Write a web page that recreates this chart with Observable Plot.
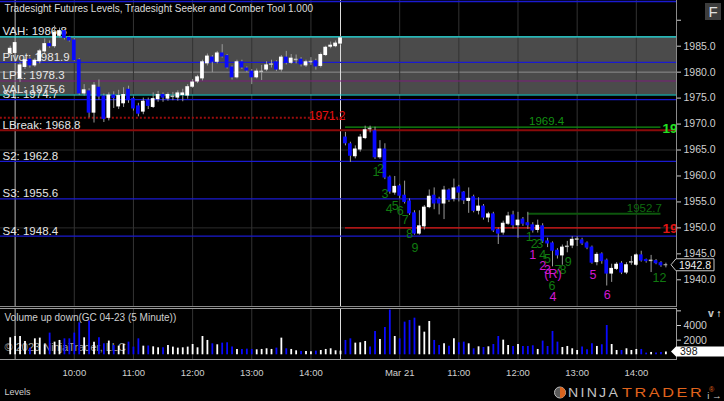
<!DOCTYPE html>
<html><head><meta charset="utf-8">
<script src="https://cdn.jsdelivr.net/npm/d3@7"></script>
<script src="https://cdn.jsdelivr.net/npm/@observablehq/plot@0.6"></script>
<style>
html,body{margin:0;padding:0;background:#000;}
#chart{width:724px;height:401px;overflow:hidden;background:#000;}
#chart svg{display:block;}
</style></head><body><div id="chart"></div>
<script>
// ---- OHLC (5 minute bars, two sessions) ----
const openP = [1983.6,1983.7,1978.8,1981.0,1982.4,1981.3,1982.1,1984.0,1985.4,1985.0,1987.0,1987.9,1986.6,1986.1,1982.3,1975.9,1976.3,1972.2,1977.0,1975.3,1971.2,1975.5,1973.4,1974.0,1976.6,1974.8,1973.4,1972.4,1974.5,1973.3,1974.8,1975.6,1974.9,1975.2,1975.1,1975.6,1975.5,1977.2,1978.2,1978.8,1981.7,1982.8,1982.0,1983.6,1983.1,1980.9,1979.0,1981.9,1980.7,1980.1,1979.0,1980.0,1980.5,1981.4,1981.9,1980.5,1982.8,1981.8,1982.3,1982.4,1981.3,1981.9,1982.1,1981.2,1983.3,1984.9,1985.0,1985.5,
1967.4,1966.1,1963.8,1965.1,1967.3,1969.1,1968.6,1963.6,1965.1,1959.7,1956.8,1958.0,1956.2,1955.1,1952.8,1948.9,1950.3,1954.0,1956.2,1955.4,1954.7,1957.2,1955.6,1957.8,1956.8,1955.2,1955.9,1953.3,1954.1,1952.0,1952.6,1949.6,1949.1,1950.8,1952.4,1950.5,1951.6,1950.9,1950.5,1949.6,1950.3,1947.4,1947.0,1945.6,1944.7,1946.3,1946.6,1947.7,1947.6,1947.0,1946.2,1943.4,1944.9,1943.7,1941.2,1942.1,1943.1,1941.4,1943.3,1942.9,1944.7,1943.8,1943.6,1943.6,1943.2,1942.8];
const highP = [1985.0,1986.0,1981.8,1982.8,1982.8,1982.6,1984.4,1986.4,1986.0,1988.9,1988.5,1988.2,1986.9,1986.5,1982.6,1977.6,1976.8,1978.0,1978.5,1975.8,1976.0,1976.2,1976.5,1977.0,1977.3,1975.2,1974.0,1975.0,1975.0,1976.0,1976.3,1976.0,1976.0,1976.1,1976.4,1976.7,1977.6,1978.6,1979.4,1982.3,1983.5,1983.2,1984.0,1985.3,1983.4,1981.2,1982.3,1982.3,1981.0,1980.5,1980.6,1981.3,1982.0,1982.3,1982.2,1983.2,1984.0,1983.4,1983.3,1982.8,1982.3,1982.8,1982.5,1983.7,1985.0,1985.8,1986.0,1986.9,
1968.4,1966.5,1965.8,1968.0,1969.6,1969.6,1969.4,1966.8,1966.2,1960.0,1959.9,1958.4,1959.0,1955.6,1953.3,1953.3,1954.3,1957.3,1957.7,1955.9,1958.0,1957.5,1959.4,1958.2,1957.0,1957.7,1956.3,1955.8,1954.5,1953.0,1953.0,1950.0,1951.3,1953.0,1953.2,1953.0,1952.0,1953.0,1951.0,1951.5,1950.8,1948.0,1947.3,1946.0,1946.7,1947.4,1948.3,1948.3,1948.0,1947.3,1946.5,1945.2,1945.2,1944.0,1943.0,1943.3,1943.5,1943.3,1944.5,1945.0,1945.5,1944.0,1944.7,1943.9,1943.5,1943.2];
const lowP = [1983.2,1982.5,1978.0,1980.5,1980.8,1980.9,1981.6,1983.6,1984.6,1984.6,1986.6,1986.2,1985.8,1982.0,1975.5,1975.4,1971.2,1970.2,1974.6,1970.3,1970.6,1973.0,1972.8,1973.2,1974.0,1972.5,1971.4,1971.8,1972.8,1973.0,1974.2,1974.2,1974.4,1974.5,1974.4,1974.3,1974.8,1976.9,1977.8,1978.3,1981.2,1979.9,1981.6,1982.7,1980.6,1978.5,1978.7,1980.5,1979.9,1977.6,1978.7,1978.4,1980.1,1980.8,1980.1,1980.0,1981.4,1981.5,1981.6,1981.0,1980.9,1981.3,1980.4,1980.8,1983.0,1984.5,1984.7,1985.2,
1965.8,1962.6,1963.3,1964.6,1967.0,1968.3,1963.2,1963.2,1959.3,1956.5,1956.3,1955.6,1954.6,1952.4,1948.6,1948.6,1949.6,1953.7,1953.5,1952.5,1951.6,1954.9,1955.0,1955.0,1954.5,1952.8,1952.9,1952.5,1951.5,1951.0,1949.1,1946.8,1948.6,1950.5,1949.8,1948.0,1950.3,1949.7,1949.0,1949.0,1947.0,1946.2,1942.5,1944.0,1942.8,1945.2,1946.0,1946.4,1946.6,1945.8,1943.0,1942.7,1943.0,1938.8,1939.5,1941.8,1941.0,1941.0,1942.8,1942.6,1943.4,1943.2,1941.4,1942.9,1942.4,1942.3];
const closeP = [1984.5,1985.6,1981.3,1982.3,1981.3,1982.2,1984.0,1985.4,1985.0,1987.6,1987.9,1986.6,1986.1,1982.3,1975.9,1976.5,1972.2,1977.4,1975.3,1971.0,1975.5,1975.0,1975.4,1975.6,1974.6,1973.0,1972.0,1974.3,1973.5,1974.8,1975.6,1975.1,1975.6,1975.3,1975.9,1975.9,1977.1,1978.0,1979.0,1981.9,1983.0,1982.0,1983.6,1983.0,1980.9,1979.0,1981.9,1980.9,1980.3,1979.0,1980.1,1980.1,1981.3,1981.5,1980.5,1982.8,1981.8,1982.6,1982.4,1981.5,1981.9,1982.0,1981.1,1983.3,1984.7,1985.1,1985.5,1986.5,
1966.3,1963.9,1965.1,1967.4,1968.8,1969.0,1963.6,1965.1,1959.7,1957.0,1957.9,1956.2,1955.0,1952.8,1948.9,1950.3,1953.9,1956.0,1954.7,1954.7,1957.2,1955.4,1957.6,1956.8,1955.3,1955.6,1953.3,1954.1,1952.0,1952.6,1949.5,1948.9,1950.8,1952.2,1950.5,1951.4,1950.8,1950.5,1949.5,1950.4,1947.4,1947.0,1945.6,1944.7,1946.2,1946.4,1947.7,1947.8,1947.0,1946.2,1943.3,1944.8,1943.6,1941.2,1942.1,1942.9,1941.4,1942.8,1943.4,1944.7,1943.7,1943.6,1943.7,1943.2,1942.8,1942.8];
const volume = [2320,2500,2500,1820,910,2180,2275,1365,2960,1730,1960,2180,2180,2960,4370,2320,4600,1730,2320,1500,1870,1270,1180,1410,1730,1050,2180,1180,1200,1090,955,955,1270,1050,910,955,1050,1410,955,2500,1960,1500,1365,1590,1640,1050,730,730,770,730,680,730,820,730,910,2275,820,730,545,455,455,410,500,590,730,820,545,500,
1960,2180,1590,1640,1820,1050,3190,2090,3730,6100,2500,2180,4460,4690,5000,3910,3090,4550,1960,1270,1500,1180,2180,1640,1730,1500,820,1090,1000,1090,1410,2500,2000,1270,1140,1410,1140,1140,1230,730,1870,1140,3190,1730,1000,1140,820,590,1050,680,1500,1140,1370,4000,1410,590,590,820,590,730,730,230,320,230,320,398];

// ---- time axis ----
const tickIndex = [13,25,37,49,61,79,91,103,115,127];
const tickLabels = ["10:00","11:00","12:00","13:00","14:00","Mar 21","11:00","12:00","13:00","14:00"];
const sessionIndex = [1,67];
const sessionColors = ["#b4b4b4","#dcdcdc"];

// ---- Tradesight levels ----
const levelNames  = ["VAH","Pivot","LP1","VAL","S1","LBreak","S2","S3","S4"];
const levelValues = [1986.8,1981.9,1978.3,1975.6,1974.7,1968.8,1962.8,1955.6,1948.4];
const levelColors = ["#22e3e3","#1a1ad0","#7a1f7a","#22e3e3","#1a1ad0","#8a0a0a","#1a1ad0","#1a1ad0","#1a1ad0"];
const levelWidths = [1.2,1.2,1,1.2,1.2,2,1.2,1.2,1.2];
const upperLevel = [1993.6];            // next level above, label off screen
const valueAreaHigh = 1986.8, valueAreaLow = 1975.6;
const gridPrices = [1950,1965];
const gridPricesInBox = [1980];
const priceTicks = [1940,1945,1950,1955,1960,1965,1970,1975,1980,1985];
const priceTickMarksOnly = [1990];
const volumeTicks = [2000,4000];
const volumeTickMarksOnly = [6000];

// previous session break line
const prevBreak = [{value:1971.2, from:-2, to:68}];
// Seeker target lines
const targetValues = [1969.4, 1950.0, 1952.7];
const targetFrom   = [68, 68, 105];
const targetTo     = [132, 132, 132];
const targetColors = ["#129012","#e01414","#0d560d"];
const targetLabelIdx = [108.8, null, 132.2];
const targetLabelColors = ["#129012", null, "#0f6a0f"];
const targetEdgeColors = ["#22e022","#e01414",null];

// Seeker / Comber counts
const seekText  = ["1","2","3","4","5","6","7","8","9","1","2","3","4","5","6","7","8","9","12","1","2","3","(R)","4","5","6"];
const seekIdx   = [74.2,75.1,76.0,76.9,78.1,79.1,80.1,81.0,82.1,105.3,106.3,107.4,108.0,109.0,109.9,111.1,112.1,113.2,131.7,106.0,108.0,109.0,110.1,110.1,118.2,121.1];
const seekPrice = [1960.7,1961.3,1956.5,1953.6,1954.3,1953.2,1951.6,1948.9,1946.1,1948.2,1946.9,1946.9,1944.8,1944.0,1938.9,1941.8,1941.8,1943.4,1940.4,1944.7,1942.6,1941.9,1941.2,1936.6,1941.0,1937.1];
const seekKind  = ["s","s","s","s","s","s","s","s","s","s","s","s","s","s","s","s","s","s","s","c","c","c","c","c","c","c"];

// ---- build tables ----
const bars = openP.map((o,i) => ({i, o, h: highP[i], l: lowP[i], c: closeP[i], v: volume[i], up: closeP[i] >= o, doji: Math.abs(closeP[i]-o) < 0.15}));
const levels = levelNames.map((n,k) => ({name:n, value:levelValues[k], color:levelColors[k], w:levelWidths[k]}));
const targets = targetValues.map((v,k) => ({value:v, from:targetFrom[k], to:targetTo[k], color:targetColors[k], li:targetLabelIdx[k], lc:targetLabelColors[k], ec:targetEdgeColors[k]}));
const seeks = seekText.map((t,k) => ({t, i:seekIdx[k], p:seekPrice[k], color: seekKind[k]==="s" ? "#107a10" : "#d218d2"}));
const last = bars[bars.length-1];

const FONT = "'Liberation Sans', Arial, sans-serif";
const X = {domain:[0,133], range:[9.7,665.4], axis:null};

const pricePlot = Plot.plot({
  width:724, height:306, marginLeft:-1, marginRight:48, marginTop:-1, marginBottom:0,
  x: X,
  y: {domain:[1940,1985], range:[279.3,45.7], axis:null},
  style: {background:"#000", color:"#cfcfcf", fontFamily:FONT, overflow:"visible"},
  marks: [
    Plot.rect([0], {y1: () => valueAreaLow, y2: () => valueAreaHigh, fill:"#4b4b4b"}),
    Plot.ruleY(gridPrices, {stroke:"#2c2c2c"}),
    Plot.ruleY(gridPricesInBox, {stroke:"#8e8e8e"}),
    Plot.ruleX(tickIndex, {stroke:"#333"}),
    Plot.ruleX(sessionIndex, {stroke: (d,k) => sessionColors[k]}),
    Plot.ruleY(upperLevel, {stroke:"#1a1ad0", strokeWidth:1.5}),
    Plot.ruleY(levels.filter(d => d.w < 2), {y:"value", stroke:"color", strokeWidth:1.2}),
    Plot.ruleY(levels.filter(d => d.w >= 2), {y:"value", stroke:"color", strokeWidth:2}),
    Plot.ruleY(prevBreak, {y:"value", x1:"from", x2:"to", stroke:"#9a0c0c", strokeWidth:2, strokeDasharray:"2,2"}),
    Plot.text(prevBreak, {x:"to", y:"value", text: d => d.value.toFixed(1), textAnchor:"end", lineAnchor:"bottom", dy:2.5, fill:"#e01010", fontSize:12}),
    Plot.ruleY(targets.filter(d => d.value !== 1952.7), {y:"value", x1:"from", x2:"to", stroke:"color", strokeWidth:1.3}),
    Plot.ruleY(targets.filter(d => d.value === 1952.7), {y:"value", x1:"from", x2:"to", stroke:"color", strokeWidth:2}),
    Plot.text(targets.filter(d => d.li !== null && d.li < 130), {x:"li", y:"value", text: d => d.value.toFixed(1), fill:"lc", textAnchor:"middle", lineAnchor:"bottom", dy:-2, fontSize:11.5}),
    Plot.text(targets.filter(d => d.li !== null && d.li >= 130), {x:"li", y:"value", text: d => d.value.toFixed(1), fill:"lc", textAnchor:"end", lineAnchor:"bottom", dy:-2, fontSize:11.5}),
    Plot.text(targets.filter(d => d.ec), {y:"value", text: d => d.value.toFixed(1).slice(0,2), fill:"ec", frameAnchor:"right", textAnchor:"end", dx:1, dy:1, fontSize:13.5, fontWeight:"bold"}),
    Plot.text(levels, {y:"value", text: d => `${d.name}: ${d.value.toFixed(1)}`, frameAnchor:"left", textAnchor:"start", lineAnchor:"bottom", dx:3, dy:-1.5, fill:"#e6e6e6", fontSize:11.5}),
    Plot.ruleX(bars, {x:"i", y1:"l", y2:"h", stroke:"#9a9a9a"}),
    Plot.rect(bars, {x1: d => d.i - 0.38, x2: d => d.i + 0.38, y1: d => Math.min(d.o,d.c), y2: d => Math.max(d.o,d.c), fill: d => d.doji ? "#bdbdbd" : (d.up ? "#ffffff" : "#0a0aff"), insetTop:-0.5, insetBottom:-0.5}),
    Plot.text(seeks, {x:"i", y:"p", text:"t", fill:"color", fontSize:12.5}),
    Plot.text(["Tradesight Futures Levels, Tradesight Seeker and Comber Tool 1.000"], {frameAnchor:"top-left", dx:5, dy:5, textAnchor:"start", lineAnchor:"top", fill:"#dcdcdc", fontSize:10}),
    Plot.frame({stroke:"#8a8a8a"}),
    Plot.axisY(priceTicks, {anchor:"right", tickSize:4, tickPadding:3, tickFormat: d => d.toFixed(1), fontSize:10.5}),
    Plot.axisY(priceTickMarksOnly, {anchor:"right", tickSize:4, tickFormat: () => ""}),
    (index, scales, values, dims) => {
      const g = d3.create("svg:g").attr("font-family", FONT);
      const yy = scales.y(last.c);
      const x0 = dims.width - dims.marginRight;
      g.append("path").attr("d", `M${x0-5},${yy} L${x0},${yy-6} L${x0+38},${yy-6} L${x0+38},${yy+6} L${x0},${yy+6} Z`).attr("fill","#000").attr("stroke","#c8c8c8");
      g.append("text").attr("x", x0+19).attr("y", yy+4).attr("text-anchor","middle").attr("fill","#f0f0f0").attr("font-size",10.5).text(last.c.toFixed(1));
      g.append("rect").attr("x", dims.width-19).attr("y", 3).attr("width", 16).attr("height", 17).attr("fill", "#3d3d3d");
      g.append("text").attr("x", dims.width-11).attr("y", 16.5).attr("text-anchor","middle").attr("fill","#e0e0e0").attr("font-size",15).text("F");
      return g.node();
    }
  ]
});

const volPlot = Plot.plot({
  width:724, height:95, marginLeft:-1, marginRight:48, marginTop:2, marginBottom:42,
  x: X,
  y: {domain:[0,4000], range:[48.3,19], axis:null},
  style: {background:"#000", color:"#cfcfcf", fontFamily:FONT, overflow:"visible"},
  marks: [
    Plot.ruleX(tickIndex, {stroke:"#333"}),
    Plot.ruleX(sessionIndex, {stroke: (d,k) => sessionColors[k]}),
    Plot.text(["© 2023 NinjaTrader, LLC"], {frameAnchor:"top-left", dx:5, dy:39, textAnchor:"start", lineAnchor:"middle", fill:"#a0a0a0", fontSize:11}),
    Plot.ruleX(bars, {x:"i", y1:0, y2:"v", stroke: d => d.up ? "#ffffff" : "#0a0aff", strokeWidth:1.8}),
    Plot.text(["Volume up down(GC 04-23 (5 Minute))"], {frameAnchor:"top-left", dx:5, dy:9, textAnchor:"start", lineAnchor:"middle", fill:"#cfcfcf", fontSize:10}),
    Plot.frame({stroke:"#9a9a9a"}),
    Plot.axisY(volumeTicks, {anchor:"right", tickSize:4, tickPadding:3, fontSize:10.5, tickFormat: d => String(d)}),
    Plot.axisY(volumeTickMarksOnly, {anchor:"right", tickSize:4, tickFormat: () => ""}),
    Plot.axisX(tickIndex, {anchor:"bottom", tickSize:0, tickPadding:10, fontSize:9.5, tickFormat: d => tickLabels[tickIndex.indexOf(d)]}),
    Plot.text(["Levels"], {frameAnchor:"bottom-left", dx:5, dy:33, textAnchor:"start", lineAnchor:"middle", fill:"#cfcfcf", fontSize:9}),
    (index, scales, values, dims) => {
      const g = d3.create("svg:g").attr("font-family", FONT).attr("text-anchor", "start");
      const yy = scales.y(last.v);
      const x0 = dims.width - dims.marginRight;
      g.append("path").attr("d", `M${x0-5},${yy} L${x0},${yy-5} L${dims.width},${yy-5} L${dims.width},${yy+5} L${x0},${yy+5} Z`).attr("fill","#ffffff");
      g.append("text").attr("x", x0+4).attr("y", yy+3.8).attr("text-anchor","start").attr("fill","#111").attr("font-size",10.5).text(String(last.v));
      // NinjaTrader logo
      const cy = dims.height - 8.5;
      g.append("circle").attr("cx", 560).attr("cy", cy).attr("r", 5.5).attr("fill","#5a5a5a").attr("stroke","#bbb").attr("stroke-width",1);
      g.append("path").attr("d", `M${560},${cy-5.5} A5.5,5.5 0 0 1 ${560},${cy+5.5} Z`).attr("fill","#d9641e");
      g.append("text").attr("text-anchor","start").attr("transform", `translate(568,${cy+4.5}) scale(1.13,1)`).attr("font-size",12.5).attr("letter-spacing",2).attr("fill","#c4c4c4").text("NINJA");
      g.append("text").attr("text-anchor","start").attr("transform", `translate(622,${cy+4.5}) scale(1.3,1)`).attr("font-size",12.5).attr("letter-spacing",2).attr("fill","#e0641c").text("TRADER");
      g.append("text").attr("text-anchor","start").attr("x", 709).attr("y", cy-0.5).attr("font-size",7).attr("fill","#e0641c").text("®");
      return g.node();
    }
  ]
});

const root = document.getElementById("chart");
root.appendChild(pricePlot);
root.appendChild(volPlot);
</script></body></html>
